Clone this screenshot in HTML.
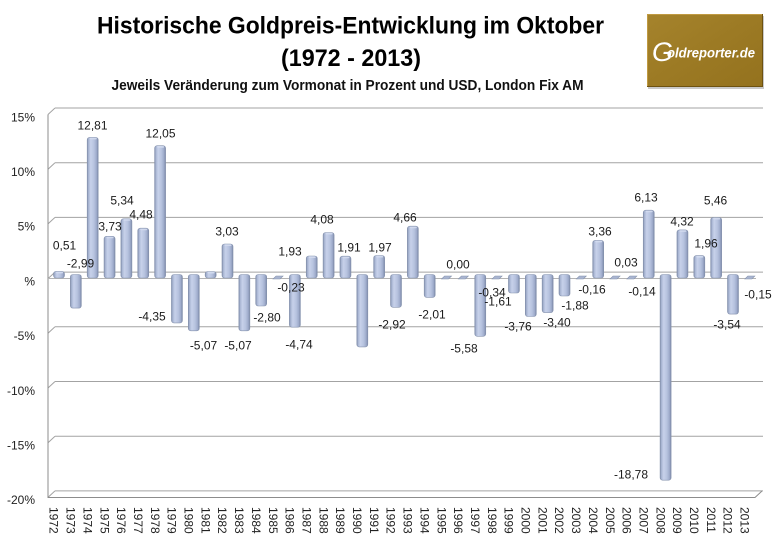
<!DOCTYPE html>
<html><head><meta charset="utf-8"><style>
html,body{margin:0;padding:0;background:#fff;}
svg{display:block;}
text{font-family:"Liberation Sans",Arial,sans-serif;}
</style></head><body>
<svg width="773" height="540" viewBox="0 0 773 540" xmlns="http://www.w3.org/2000/svg">
<defs>
<linearGradient id="bg" x1="0" y1="0" x2="1" y2="0">
<stop offset="0" stop-color="#7d8aa8"/>
<stop offset="0.12" stop-color="#a9b6d3"/>
<stop offset="0.32" stop-color="#c7d1ea"/>
<stop offset="0.62" stop-color="#b7c3df"/>
<stop offset="0.85" stop-color="#9eabcb"/>
<stop offset="1" stop-color="#7986a4"/>
</linearGradient>
<linearGradient id="lg" x1="0" y1="0" x2="1" y2="1">
<stop offset="0" stop-color="#a5832c"/>
<stop offset="0.5" stop-color="#9c7a24"/>
<stop offset="1" stop-color="#94721e"/>
</linearGradient>
</defs>
<rect width="773" height="540" fill="#fff"/>

<!-- Titles -->
<text x="97" y="33.5" font-size="24" font-weight="bold" fill="#000" textLength="507" lengthAdjust="spacingAndGlyphs">Historische Goldpreis-Entwicklung im Oktober</text>
<text x="281" y="66" font-size="24" font-weight="bold" fill="#000" textLength="140" lengthAdjust="spacingAndGlyphs">(1972 - 2013)</text>
<text x="111.5" y="90" font-size="14.5" font-weight="bold" fill="#111" textLength="472" lengthAdjust="spacingAndGlyphs">Jeweils Veränderung zum Vormonat in Prozent und USD, London Fix AM</text>

<!-- Logo -->
<rect x="648" y="16" width="116" height="73" fill="#c9c9c9"/>
<rect x="647" y="14" width="116" height="73" fill="#6e5210"/>
<rect x="647" y="14" width="115" height="72" fill="#c09a42"/>
<rect x="648" y="15" width="114" height="71" fill="url(#lg)"/>
<text x="652" y="61" font-size="27" font-style="italic" fill="#fff" font-family="Liberation Serif, serif">G</text>
<text x="667" y="57.5" font-size="14" font-style="italic" font-weight="bold" fill="#fff" textLength="88" lengthAdjust="spacingAndGlyphs">oldreporter.de</text>

<!-- Back wall gridlines + side wall -->
<g stroke="#a3a3a3" stroke-width="1" fill="none">
<path d="M55 108H763M48 114.5L55 108"/>
<path d="M55 162.7H763M48 169.2L55 162.7"/>
<path d="M55 217.4H763M48 223.9L55 217.4"/>
<path d="M55 272.1H763M48 278.6L55 272.1"/>
<path d="M55 326.8H763M48 333.3L55 326.8"/>
<path d="M55 381.5H763M48 388L55 381.5"/>
<path d="M55 436.2H763M48 442.7L55 436.2"/>
<path d="M55 490.9H763M48 497.4L55 490.9"/>
</g>
<g stroke="#8c8c8c" stroke-width="1" fill="none">
<path d="M48 114.5V497.5H755L762 491"/>
</g>
<path d="M48 278.5H756" stroke="#b4b4b4" stroke-width="1"/>

<!-- Y axis labels -->
<g font-size="12" fill="#222" text-anchor="end">
<text x="35" y="121.3">15%</text>
<text x="35" y="176">10%</text>
<text x="35" y="230.7">5%</text>
<text x="35" y="285.3">%</text>
<text x="35" y="340">-5%</text>
<text x="35" y="394.8">-10%</text>
<text x="35" y="449.3">-15%</text>
<text x="35" y="504">-20%</text>
</g>

<!-- Bars -->
<g fill="url(#bg)" stroke="#8693ae" stroke-width="0.6">
<rect x="53.5" y="271.4" width="11" height="6.6" rx="2.5"/>
<rect x="70.35" y="274.5" width="11" height="33.6" rx="2.5"/>
<rect x="87.2" y="137.4" width="11" height="140.6" rx="2.5"/>
<rect x="104.05" y="236.3" width="11" height="41.7" rx="2.5"/>
<rect x="120.9" y="218.8" width="11" height="59.2" rx="2.5"/>
<rect x="137.75" y="228.2" width="11" height="49.8" rx="2.5"/>
<rect x="154.6" y="145.7" width="11" height="132.3" rx="2.5"/>
<rect x="171.45" y="274.5" width="11" height="48.4" rx="2.5"/>
<rect x="188.3" y="274.5" width="11" height="56.3" rx="2.5"/>
<rect x="205.15" y="271.5" width="11" height="6.5" rx="2.5"/>
<rect x="222" y="244" width="11" height="34" rx="2.5"/>
<rect x="238.85" y="274.5" width="11" height="56.3" rx="2.5"/>
<rect x="255.7" y="274.5" width="11" height="31.5" rx="2.5"/>
<rect x="289.4" y="274.5" width="11" height="52.7" rx="2.5"/>
<rect x="306.25" y="256" width="11" height="22" rx="2.5"/>
<rect x="323.1" y="232.5" width="11" height="45.5" rx="2.5"/>
<rect x="339.95" y="256.2" width="11" height="21.8" rx="2.5"/>
<rect x="356.8" y="274.5" width="11" height="72.4" rx="2.5"/>
<rect x="373.65" y="255.5" width="11" height="22.5" rx="2.5"/>
<rect x="390.5" y="274.5" width="11" height="32.8" rx="2.5"/>
<rect x="407.35" y="226.2" width="11" height="51.8" rx="2.5"/>
<rect x="424.2" y="274.5" width="11" height="22.9" rx="2.5"/>
<rect x="474.75" y="274.5" width="11" height="61.8" rx="2.5"/>
<rect x="508.45" y="274.5" width="11" height="18.5" rx="2.5"/>
<rect x="525.3" y="274.5" width="11" height="42" rx="2.5"/>
<rect x="542.15" y="274.5" width="11" height="38.1" rx="2.5"/>
<rect x="559" y="274.5" width="11" height="21.5" rx="2.5"/>
<rect x="592.7" y="240.4" width="11" height="37.6" rx="2.5"/>
<rect x="643.25" y="210.2" width="11" height="67.8" rx="2.5"/>
<rect x="660.1" y="274.5" width="11" height="205.7" rx="2.5"/>
<rect x="676.95" y="229.9" width="11" height="48.1" rx="2.5"/>
<rect x="693.8" y="255.6" width="11" height="22.4" rx="2.5"/>
<rect x="710.65" y="217.5" width="11" height="60.5" rx="2.5"/>
<rect x="727.5" y="274.5" width="11" height="39.6" rx="2.5"/>
</g>
<!-- caps on positive bars -->
<g fill="#d3dbef" stroke="none" opacity="0.9">
<rect x="56" y="271.8" width="7" height="1.6" rx="0.8"/>
<rect x="89.7" y="137.8" width="7" height="1.6" rx="0.8"/>
<rect x="106.5" y="236.7" width="7" height="1.6" rx="0.8"/>
<rect x="123.4" y="219.2" width="7" height="1.6" rx="0.8"/>
<rect x="140.2" y="228.6" width="7" height="1.6" rx="0.8"/>
<rect x="157.1" y="146.1" width="7" height="1.6" rx="0.8"/>
<rect x="207.6" y="271.9" width="7" height="1.6" rx="0.8"/>
<rect x="224.5" y="244.4" width="7" height="1.6" rx="0.8"/>
<rect x="308.7" y="256.4" width="7" height="1.6" rx="0.8"/>
<rect x="325.6" y="232.9" width="7" height="1.6" rx="0.8"/>
<rect x="342.4" y="256.6" width="7" height="1.6" rx="0.8"/>
<rect x="376.1" y="255.9" width="7" height="1.6" rx="0.8"/>
<rect x="409.8" y="226.6" width="7" height="1.6" rx="0.8"/>
<rect x="595.2" y="240.8" width="7" height="1.6" rx="0.8"/>
<rect x="645.7" y="210.6" width="7" height="1.6" rx="0.8"/>
<rect x="679.4" y="230.3" width="7" height="1.6" rx="0.8"/>
<rect x="696.3" y="256" width="7" height="1.6" rx="0.8"/>
<rect x="713.1" y="217.9" width="7" height="1.6" rx="0.8"/>
</g>
<!-- flat (near zero) bars -->
<g fill="#a9b5d0" stroke="#8693ae" stroke-width="0.6">
<polygon points="273.05,279 280.05,279 283.05,276 276.05,276"/>
<polygon points="441.55,279 448.55,279 451.55,276 444.55,276"/>
<polygon points="458.4,279 465.4,279 468.4,276 461.4,276"/>
<polygon points="492.1,279 499.1,279 502.1,276 495.1,276"/>
<polygon points="576.35,279 583.35,279 586.35,276 579.35,276"/>
<polygon points="610.05,279 617.05,279 620.05,276 613.05,276"/>
<polygon points="626.9,279 633.9,279 636.9,276 629.9,276"/>
<polygon points="744.85,279 751.85,279 754.85,276 747.85,276"/>
</g>

<!-- Data labels -->
<g font-size="12" fill="#1a1a1a" text-anchor="middle">
<text x="64.5" y="249.3">0,51</text>
<text x="80.5" y="267.3">-2,99</text>
<text x="92.5" y="129.3">12,81</text>
<text x="110" y="230.3">3,73</text>
<text x="122" y="204.3">5,34</text>
<text x="141" y="218.3">4,48</text>
<text x="160.5" y="137.3">12,05</text>
<text x="152" y="320.3">-4,35</text>
<text x="203.5" y="349.3">-5,07</text>
<text x="227" y="235.3">3,03</text>
<text x="238" y="349.3">-5,07</text>
<text x="267" y="321.3">-2,80</text>
<text x="290" y="255.3">1,93</text>
<text x="291" y="291.3">-0,23</text>
<text x="299" y="348.3">-4,74</text>
<text x="322" y="223.3">4,08</text>
<text x="349" y="251.3">1,91</text>
<text x="380" y="251.3">1,97</text>
<text x="392" y="328.3">-2,92</text>
<text x="405" y="221.3">4,66</text>
<text x="432" y="318.3">-2,01</text>
<text x="458" y="268.3">0,00</text>
<text x="464" y="352.3">-5,58</text>
<text x="492" y="296.3">-0,34</text>
<text x="498" y="305.3">-1,61</text>
<text x="518" y="330.3">-3,76</text>
<text x="557" y="326.3">-3,40</text>
<text x="575" y="309.3">-1,88</text>
<text x="592" y="293.3">-0,16</text>
<text x="600" y="235.3">3,36</text>
<text x="626" y="266.3">0,03</text>
<text x="642" y="295.3">-0,14</text>
<text x="646" y="201.3">6,13</text>
<text x="631" y="478.3">-18,78</text>
<text x="682" y="225.3">4,32</text>
<text x="706" y="247.3">1,96</text>
<text x="715.5" y="204.3">5,46</text>
<text x="727" y="328.3">-3,54</text>
<text x="758" y="298.3">-0,15</text>
</g>

<!-- X axis labels (rotated) -->
<g font-size="12" fill="#222">
<text transform="translate(49.7,507) rotate(90)">1972</text>
<text transform="translate(66.55,507) rotate(90)">1973</text>
<text transform="translate(83.4,507) rotate(90)">1974</text>
<text transform="translate(100.25,507) rotate(90)">1975</text>
<text transform="translate(117.1,507) rotate(90)">1976</text>
<text transform="translate(133.95,507) rotate(90)">1977</text>
<text transform="translate(150.8,507) rotate(90)">1978</text>
<text transform="translate(167.65,507) rotate(90)">1979</text>
<text transform="translate(184.5,507) rotate(90)">1980</text>
<text transform="translate(201.35,507) rotate(90)">1981</text>
<text transform="translate(218.2,507) rotate(90)">1982</text>
<text transform="translate(235.05,507) rotate(90)">1983</text>
<text transform="translate(251.9,507) rotate(90)">1984</text>
<text transform="translate(268.75,507) rotate(90)">1985</text>
<text transform="translate(285.6,507) rotate(90)">1986</text>
<text transform="translate(302.45,507) rotate(90)">1987</text>
<text transform="translate(319.3,507) rotate(90)">1988</text>
<text transform="translate(336.15,507) rotate(90)">1989</text>
<text transform="translate(353,507) rotate(90)">1990</text>
<text transform="translate(369.85,507) rotate(90)">1991</text>
<text transform="translate(386.7,507) rotate(90)">1992</text>
<text transform="translate(403.55,507) rotate(90)">1993</text>
<text transform="translate(420.4,507) rotate(90)">1994</text>
<text transform="translate(437.25,507) rotate(90)">1995</text>
<text transform="translate(454.1,507) rotate(90)">1996</text>
<text transform="translate(470.95,507) rotate(90)">1997</text>
<text transform="translate(487.8,507) rotate(90)">1998</text>
<text transform="translate(504.65,507) rotate(90)">1999</text>
<text transform="translate(521.5,507) rotate(90)">2000</text>
<text transform="translate(538.35,507) rotate(90)">2001</text>
<text transform="translate(555.2,507) rotate(90)">2002</text>
<text transform="translate(572.05,507) rotate(90)">2003</text>
<text transform="translate(588.9,507) rotate(90)">2004</text>
<text transform="translate(605.75,507) rotate(90)">2005</text>
<text transform="translate(622.6,507) rotate(90)">2006</text>
<text transform="translate(639.45,507) rotate(90)">2007</text>
<text transform="translate(656.3,507) rotate(90)">2008</text>
<text transform="translate(673.15,507) rotate(90)">2009</text>
<text transform="translate(690,507) rotate(90)">2010</text>
<text transform="translate(706.85,507) rotate(90)">2011</text>
<text transform="translate(723.7,507) rotate(90)">2012</text>
<text transform="translate(740.55,507) rotate(90)">2013</text>
</g>
</svg>
</body></html>
